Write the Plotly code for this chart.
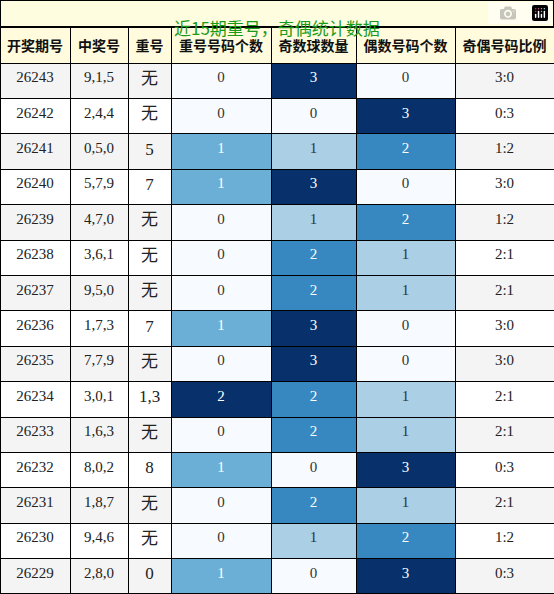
import plotly.graph_objects as go
import plotly.colors as pc

periods = ["26243","26242","26241","26240","26239","26238","26237","26236","26235","26234","26233","26232","26231","26230","26229"]
numbers = ["9,1,5","2,4,4","0,5,0","5,7,9","4,7,0","3,6,1","9,5,0","1,7,3","7,7,9","3,0,1","1,6,3","8,0,2","1,8,7","9,4,6","2,8,0"]
repeats = ["无","无","5","7","无","无","无","7","无","1,3","无","8","无","无","0"]
rep_count = [0,0,1,1,0,0,0,1,0,2,0,1,0,0,1]
odd_count = [3,0,1,3,1,2,2,3,3,2,2,0,2,1,0]
even_count = [0,3,2,0,2,1,1,0,0,1,1,3,1,2,3]
ratio = ["3:0","0:3","1:2","3:0","1:2","2:1","2:1","3:0","3:0","2:1","2:1","0:3","2:1","1:2","0:3"]
headers = ["开奖期号","中奖号","重号","重号号码个数","奇数球数量","偶数号码个数","奇偶号码比例"]
title = "近15期重号，奇偶统计数据"

n = len(periods)
stripe = ["#f4f4f4" if i % 2 == 0 else "#ffffff" for i in range(n)]

def scale(vals):
    m = max(vals)
    fills, fonts = [], []
    for v in vals:
        t = v / m if m else 0
        fills.append(pc.sample_colorscale("Blues", [t])[0])
        fonts.append("white" if t >= 0.5 else "#333333")
    return fills, fonts

f1, c1 = scale(rep_count)
f2, c2 = scale(odd_count)
f3, c3 = scale(even_count)
dark = ["#222222"] * n

fig = go.Figure(go.Table(
    columnwidth=[70, 58, 43, 100, 85, 99, 99],
    header=dict(values=[f"<b>{h}</b>" for h in headers], fill_color="#fffbdc",
                line=dict(color="black", width=1), align="center", height=36,
                font=dict(family="Noto Sans CJK SC", size=14, color="#111111")),
    cells=dict(values=[periods, numbers, repeats, rep_count, odd_count, even_count, ratio],
               fill_color=[stripe, stripe, stripe, f1, f2, f3, stripe],
               font=dict(family=["Liberation Serif, Noto Sans CJK SC"] * 7, size=[15, 15, 17, 15, 15, 15, 15],
                         color=[dark, dark, dark, c1, c2, c3, dark]),
               line=dict(color="black", width=1), align="center", height=35.4),
    domain=dict(x=[0, 1], y=[0, 1 - 27/594]),
))
fig.add_shape(type="rect", xref="paper", yref="paper", x0=0, x1=1, y0=1 - 27/594, y1=1,
              fillcolor="#fffde0", line=dict(color="black", width=2))
fig.add_annotation(text=title, xref="paper", yref="paper", x=0.5, y=1 - 13.5/594, showarrow=False,
                   font=dict(family="Noto Sans CJK SC", size=17, color="#1a9a1a"))
fig.update_layout(width=554, height=594, margin=dict(l=0, r=0, t=0, b=0), paper_bgcolor="white")
fig.write_html("out.html", post_script="document.body.style.margin='0';document.body.style.overflow='hidden';")
